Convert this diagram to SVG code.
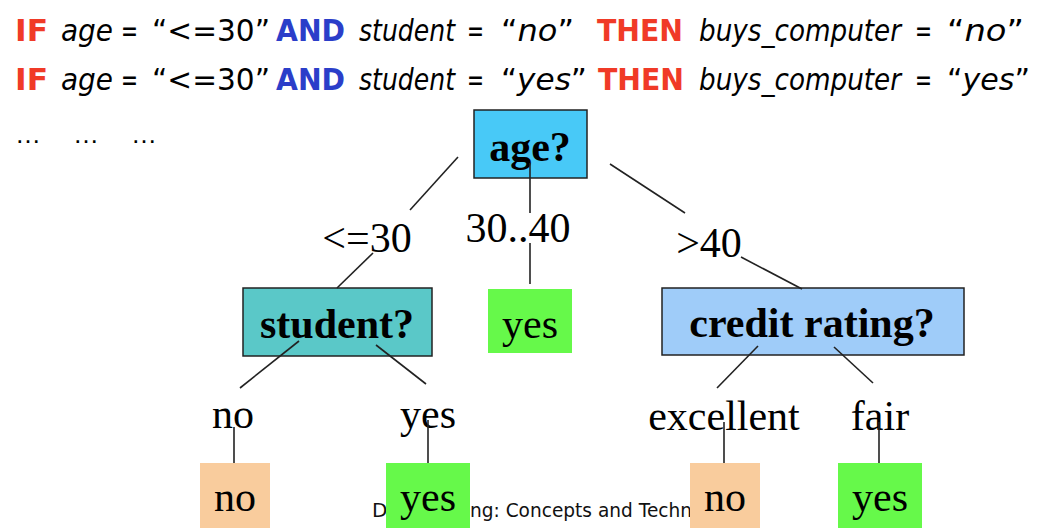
<svg xmlns="http://www.w3.org/2000/svg" width="1054" height="528" viewBox="0 0 1054 528">
<style>
.r{font-family:"DejaVu Sans",Verdana,sans-serif;font-size:31px;fill:#000}
.kr{font-weight:bold;fill:#F03A27}
.kb{font-weight:bold;fill:#2B3EC9}
.it{font-style:italic}
.dots{font-family:"Liberation Sans",Arial,sans-serif;font-size:26px;fill:#000}
.lbl{font-family:"Liberation Serif","Times New Roman",serif;font-size:42px;fill:#000;text-anchor:middle}
.bl{font-family:"Liberation Serif","Times New Roman",serif;font-size:42px;font-weight:bold;fill:#000;text-anchor:middle}
.dec{stroke:#222;stroke-width:1.5}
.ln{stroke:#222;stroke-width:1.6;fill:none}
.foot{font-family:"DejaVu Sans",Tahoma,sans-serif;font-size:20px;fill:#111}
</style>
<rect width="1054" height="528" fill="#fff"/>
<g id="rules">
<text class="r kr" x="15" y="41" textLength="33" lengthAdjust="spacingAndGlyphs">IF</text>
<text class="r it" x="61" y="41" textLength="52" lengthAdjust="spacingAndGlyphs">age</text>
<text class="r" x="121" y="41" textLength="17" lengthAdjust="spacingAndGlyphs">=</text>
<text class="r" x="152" y="41" textLength="118" lengthAdjust="spacingAndGlyphs">“&lt;=30”</text>
<text class="r kb" x="276" y="41" textLength="69" lengthAdjust="spacingAndGlyphs">AND</text>
<text class="r it" x="359" y="41" textLength="96" lengthAdjust="spacingAndGlyphs">student</text>
<text class="r" x="467" y="41" textLength="17" lengthAdjust="spacingAndGlyphs">=</text>
<text class="r" x="501" y="41" textLength="73" lengthAdjust="spacingAndGlyphs">“<tspan class="it">no</tspan>”</text>
<text class="r kr" x="597" y="41" textLength="86" lengthAdjust="spacingAndGlyphs">THEN</text>
<text class="r it" x="699" y="41" textLength="202" lengthAdjust="spacingAndGlyphs">buys_computer</text>
<text class="r" x="915" y="41" textLength="17" lengthAdjust="spacingAndGlyphs">=</text>
<text class="r" x="947" y="41" textLength="77" lengthAdjust="spacingAndGlyphs">“<tspan class="it">no</tspan>”</text>

<text class="r kr" x="15" y="90" textLength="33" lengthAdjust="spacingAndGlyphs">IF</text>
<text class="r it" x="61" y="90" textLength="52" lengthAdjust="spacingAndGlyphs">age</text>
<text class="r" x="121" y="90" textLength="17" lengthAdjust="spacingAndGlyphs">=</text>
<text class="r" x="152" y="90" textLength="118" lengthAdjust="spacingAndGlyphs">“&lt;=30”</text>
<text class="r kb" x="276" y="90" textLength="69" lengthAdjust="spacingAndGlyphs">AND</text>
<text class="r it" x="359" y="90" textLength="96" lengthAdjust="spacingAndGlyphs">student</text>
<text class="r" x="467" y="90" textLength="17" lengthAdjust="spacingAndGlyphs">=</text>
<text class="r" x="501" y="90" textLength="86" lengthAdjust="spacingAndGlyphs">“<tspan class="it">yes</tspan>”</text>
<text class="r kr" x="598" y="90" textLength="86" lengthAdjust="spacingAndGlyphs">THEN</text>
<text class="r it" x="699" y="90" textLength="202" lengthAdjust="spacingAndGlyphs">buys_computer</text>
<text class="r" x="915" y="90" textLength="17" lengthAdjust="spacingAndGlyphs">=</text>
<text class="r" x="947" y="90" textLength="83" lengthAdjust="spacingAndGlyphs">“<tspan class="it">yes</tspan>”</text>

<text class="dots" x="15" y="143">…</text>
<text class="dots" x="73" y="143">…</text>
<text class="dots" x="131" y="143">…</text>
</g>
<g id="footer">
<text class="foot" x="372" y="517">Data Mini</text>
<text class="foot" x="470" y="517" textLength="222" lengthAdjust="spacingAndGlyphs">ng: Concepts and Techn</text>
</g>
<g id="node-age">
<rect class="dec" x="474" y="110" width="113" height="68" fill="#48C9F7"/>
<text class="bl" x="530" y="161">age?</text>
</g>
<g id="node-student">
<rect class="dec" x="243" y="288" width="189" height="68" fill="#5AC8C8"/>
<text class="bl" x="337" y="338">student?</text>
</g>
<g id="node-yes-mid">
<rect x="488" y="289" width="84" height="64" fill="#66F94A"/>
<text class="lbl" x="530" y="338">yes</text>
</g>
<g id="node-credit">
<rect class="dec" x="662" y="288" width="302" height="67" fill="#9FCCF9"/>
<text class="bl" x="812" y="337">credit rating?</text>
</g>
<g id="leaf-no-1">
<rect x="200" y="463" width="70" height="65" fill="#F9CC9D"/>
<text class="lbl" x="235" y="511">no</text>
</g>
<g id="leaf-yes-1">
<rect x="386" y="463" width="84" height="65" fill="#66F94A"/>
<text class="lbl" x="428" y="511">yes</text>
</g>
<g id="leaf-no-2">
<rect x="690" y="463" width="70" height="65" fill="#F9CC9D"/>
<text class="lbl" x="725" y="511">no</text>
</g>
<g id="leaf-yes-2">
<rect x="838" y="463" width="84" height="65" fill="#66F94A"/>
<text class="lbl" x="880" y="511">yes</text>
</g>
<g id="edge-labels">
<text class="lbl" x="367" y="252">&lt;=30</text>
<text class="lbl" x="518" y="242">30..40</text>
<text class="lbl" x="709" y="257">&gt;40</text>
<text class="lbl" x="233" y="428">no</text>
<text class="lbl" x="428" y="428">yes</text>
<text class="lbl" x="724" y="430">excellent</text>
<text class="lbl" x="880" y="430">fair</text>
</g>
<g id="connectors">
<line class="ln" x1="458" y1="157" x2="410" y2="210"/>
<line class="ln" x1="373" y1="253" x2="337" y2="288"/>
<line class="ln" x1="530" y1="163" x2="530" y2="213"/>
<line class="ln" x1="530" y1="243" x2="530" y2="284"/>
<line class="ln" x1="610" y1="164" x2="685" y2="213"/>
<line class="ln" x1="741" y1="257" x2="802" y2="289"/>
<line class="ln" x1="299" y1="341" x2="240" y2="388"/>
<line class="ln" x1="376" y1="345" x2="426" y2="384"/>
<line class="ln" x1="234" y1="427" x2="234" y2="463"/>
<line class="ln" x1="428" y1="420" x2="428" y2="463"/>
<line class="ln" x1="758" y1="346" x2="717" y2="388"/>
<line class="ln" x1="834" y1="347" x2="873" y2="383"/>
<line class="ln" x1="724" y1="422" x2="724" y2="463"/>
<line class="ln" x1="879" y1="422" x2="879" y2="463"/>
</g>
</svg>
